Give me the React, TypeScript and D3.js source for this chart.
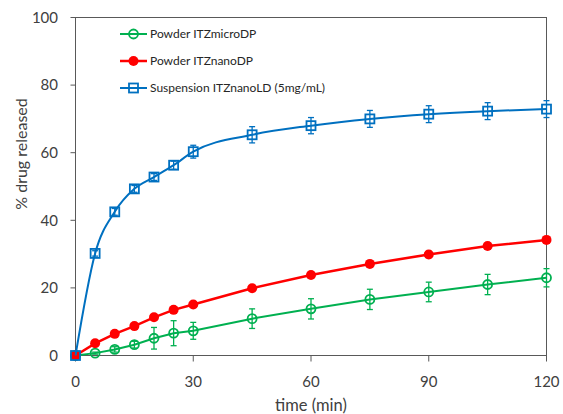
import React from "react";
import * as d3 from "d3";

const times = [0, 5, 10, 15, 20, 25, 30, 45, 60, 75, 90, 105, 120];
const microDP = [0, 0.7, 1.8, 3.2, 5.1, 6.6, 7.3, 10.9, 13.8, 16.6, 18.8, 21.0, 23.0];
const microErr = [0, 0.3, 0.8, 1.0, 3.2, 3.7, 2.5, 2.9, 3.0, 3.0, 2.9, 3.0, 2.7];
const nanoDP = [0, 3.6, 6.4, 8.7, 11.3, 13.5, 15.1, 19.9, 23.8, 27.1, 29.9, 32.4, 34.2];
const nanoErr = [0, 0.3, 0.4, 0.5, 0.5, 0.6, 0.6, 0.7, 0.8, 0.8, 0.9, 0.9, 1.0];
const nanoLD = [0, 30.2, 42.5, 49.3, 52.8, 56.3, 60.3, 65.3, 68.0, 70.0, 71.4, 72.3, 72.9];
const nanoLDErr = [0, 0.8, 1.0, 1.0, 1.0, 1.2, 1.9, 2.4, 2.4, 2.5, 2.5, 2.5, 2.5];
const xTicks = [0, 30, 60, 90, 120];
const yTicks = [0, 20, 40, 60, 80, 100];
const seriesNames = ["Powder ITZmicroDP", "Powder ITZnanoDP", "Suspension ITZnanoLD (5mg/mL)"];
const xTitle = "time (min)";
const yTitle = "% drug released";

const font = "Lato, 'Open Sans', sans-serif";
const axisColor = "#595959";

export default function App() {
  const W = 563, H = 414;
  const x = d3.scaleLinear().domain([0, 120]).range([75.5, 546.5]);
  const y = d3.scaleLinear().domain([0, 100]).range([355.5, 17.5]);

  const series = [
    { name: seriesNames[0], vals: microDP, err: microErr, color: "#00B050", marker: "circleOpen", curve: d3.curveLinear, sw: 2 },
    { name: seriesNames[1], vals: nanoDP, err: nanoErr, color: "#FF0000", marker: "circleFill", curve: d3.curveLinear, sw: 2.5 },
    { name: seriesNames[2], vals: nanoLD, err: nanoLDErr, color: "#0070C0", marker: "square", curve: d3.curveMonotoneX, sw: 2 },
  ];

  const marker = (kind: string, color: string, cx: number, cy: number, key: string) => {
    if (kind === "circleOpen") return <circle key={key} cx={cx} cy={cy} r={4.5} fill="none" stroke={color} strokeWidth={1.8} />;
    if (kind === "circleFill") return <circle key={key} cx={cx} cy={cy} r={5} fill={color} />;
    return <rect key={key} x={cx - 4.5} y={cy - 4.5} width={9} height={9} fill="none" stroke={color} strokeWidth={1.8} />;
  };

  return (
    <svg width={W} height={H} style={{ position: "absolute", left: 0, top: 0, fontFamily: font }}>
      <rect x={0} y={0} width={W} height={H} fill="#fff" />
      <rect x={x(0)} y={y(100)} width={x(120) - x(0)} height={y(0) - y(100)} fill="none" stroke={axisColor} strokeWidth={1} />
      {yTicks.map((t) => (
        <g key={"yt" + t}>
          <line x1={x(0) - 5} x2={x(0)} y1={y(t)} y2={y(t)} stroke={axisColor} />
          <text x={58} y={y(t)} dy="0.35em" textAnchor="end" fontSize={15} fill="#404040">{t}</text>
        </g>
      ))}
      {xTicks.map((t) => (
        <g key={"xt" + t}>
          <line x1={x(t)} x2={x(t)} y1={y(0)} y2={y(0) + 6} stroke={axisColor} />
          <text x={x(t)} y={382} dy="0.35em" textAnchor="middle" fontSize={15} fill="#404040">{t}</text>
        </g>
      ))}
      <text x={311} y={405} dy="0.35em" textAnchor="middle" fontSize={16.5} fill="#404040">{xTitle}</text>
      <text transform={`translate(21,154) rotate(-90)`} dy="0.35em" textAnchor="middle" fontSize={16} fill="#404040">{yTitle}</text>

      {series.map((s, si) => {
        const line = d3.line<number>().x((_, i) => x(times[i])).y((v) => y(v)).curve(s.curve);
        return (
          <g key={"s" + si}>
            <path d={line(s.vals) || ""} fill="none" stroke={s.color} strokeWidth={s.sw} />
            {s.vals.map((v, i) => {
              const e = s.err[i];
              if (!e) return null;
              const cx = x(times[i]);
              return (
                <g key={"e" + i} stroke={s.color} strokeWidth={1.3}>
                  <line x1={cx} x2={cx} y1={y(v + e)} y2={y(v - e)} />
                  <line x1={cx - 3} x2={cx + 3} y1={y(v + e)} y2={y(v + e)} />
                  <line x1={cx - 3} x2={cx + 3} y1={y(v - e)} y2={y(v - e)} />
                </g>
              );
            })}
            {s.vals.map((v, i) => marker(s.marker, s.color, x(times[i]), y(v), "m" + i))}
          </g>
        );
      })}

      {series.map((s, i) => {
        const ly = 34 + i * 27;
        return (
          <g key={"l" + i}>
            <line x1={120} x2={147} y1={ly} y2={ly} stroke={s.color} strokeWidth={s.sw} />
            {marker(s.marker, s.color, 133.5, ly, "lm")}
            <text x={150} y={ly} dy="0.35em" fontSize={12} fill="#262626">{s.name}</text>
          </g>
        );
      })}
    </svg>
  );
}
